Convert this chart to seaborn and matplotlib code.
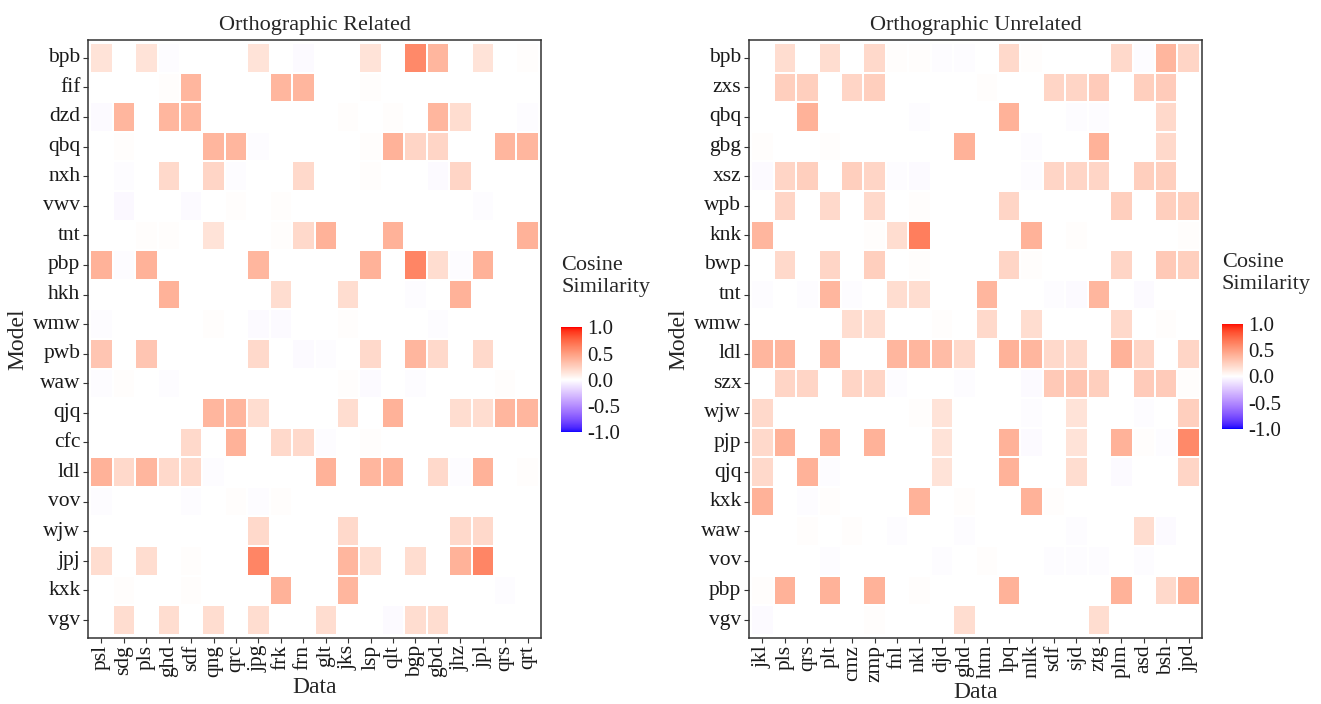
import numpy as np
import pandas as pd
import matplotlib
matplotlib.use("Agg")
import matplotlib.pyplot as plt
from matplotlib.colors import ListedColormap
import seaborn as sns

# ---- data -------------------------------------------------------------
related_models = ["bpb", "fif", "dzd", "qbq", "nxh", "vwv", "tnt", "pbp", "hkh", "wmw",
                  "pwb", "waw", "qjq", "cfc", "ldl", "vov", "wjw", "jpj", "kxk", "vgv"]
related_data = ["psl", "sdg", "pls", "ghd", "sdf", "qng", "qrc", "jpg", "frk", "frn",
                "glt", "jks", "lsp", "qlt", "bgp", "gbd", "jhz", "jpl", "qrs", "qrt"]
related_values = [
    [0.15, 0, 0.15, -0.01, 0, 0, 0, 0.15, 0, -0.02, 0, 0, 0.15, 0, 0.6, 0.38, 0, 0.15, 0, 0.01],
    [0, 0, 0, 0.01, 0.38, 0, 0, 0, 0.38, 0.38, 0, 0, 0.01, 0, 0, 0, 0, 0, 0, 0],
    [-0.02, 0.38, 0, 0.38, 0.38, 0, 0, 0, 0, 0, 0, 0.01, 0, 0.01, 0, 0.38, 0.18, 0, 0, -0.01],
    [0, 0.01, 0, 0, 0, 0.38, 0.38, -0.01, 0, 0, 0, 0, 0.01, 0.4, 0.22, 0.22, 0, 0, 0.38, 0.38],
    [0, -0.01, 0, 0.2, 0, 0.22, -0.01, 0, 0, 0.2, 0, 0, 0.01, 0, 0, -0.02, 0.22, 0, 0, 0],
    [0, -0.03, 0, 0, -0.02, 0, 0.01, 0, 0.01, 0, 0, 0, 0, 0, 0, 0, 0, -0.01, 0, 0],
    [0, 0, 0.01, 0.01, 0, 0.15, 0, 0, 0.01, 0.2, 0.4, 0, 0, 0.4, 0, 0, 0, 0, 0, 0.4],
    [0.4, -0.01, 0.4, 0, 0, 0, 0, 0.38, 0, 0, 0, 0, 0.4, 0, 0.62, 0.18, -0.01, 0.4, 0, 0],
    [0, 0, 0, 0.4, 0, 0, 0, 0, 0.18, 0, 0, 0.18, 0, 0, -0.01, 0, 0.4, 0, 0, 0],
    [-0.01, 0, 0, 0, 0, 0.01, 0, -0.02, -0.02, 0, 0, 0.01, 0, 0, 0, -0.01, 0, 0, 0, 0],
    [0.3, 0, 0.3, 0, 0, 0, 0, 0.2, 0, -0.02, -0.01, 0, 0.2, 0, 0.38, 0.2, 0, 0.2, 0, 0],
    [-0.01, 0.01, 0, -0.01, 0, 0, 0, 0, 0, 0, 0, 0.01, -0.02, 0, -0.01, 0, 0, 0, 0.01, 0],
    [0, 0, 0, 0, 0, 0.38, 0.38, 0.18, 0, 0, 0, 0.18, 0, 0.4, 0, 0, 0.18, 0.18, 0.38, 0.38],
    [0, 0, 0, 0, 0.2, 0, 0.4, 0, 0.2, 0.2, -0.01, 0, 0.01, 0, 0, 0, 0, 0, 0, 0],
    [0.4, 0.2, 0.38, 0.2, 0.2, -0.01, 0, 0, 0, 0, 0.4, 0, 0.38, 0.4, 0, 0.2, -0.01, 0.4, 0, 0.01],
    [-0.01, 0, 0, 0, -0.01, 0, 0.01, -0.01, 0.01, 0, 0, 0, 0, 0, 0, 0, 0, 0, 0, 0],
    [0, 0, 0, 0, 0, 0, 0, 0.2, 0, 0, 0, 0.2, 0, 0, 0, 0, 0.2, 0.2, 0, 0],
    [0.18, 0, 0.18, 0, 0.01, 0, 0, 0.62, 0, 0, 0, 0.38, 0.18, 0, 0.18, 0, 0.4, 0.62, 0, 0],
    [0, 0.01, 0, 0, 0.01, 0, 0, 0, 0.4, 0, 0, 0.38, 0, 0, 0, 0, 0, 0, -0.01, 0],
    [0, 0.18, 0, 0.18, 0, 0.18, 0, 0.18, 0, 0, 0.18, 0, 0, -0.02, 0.18, 0.18, 0, 0, 0, 0],
]

unrelated_models = ["bpb", "zxs", "qbq", "gbg", "xsz", "wpb", "knk", "bwp", "tnt", "wmw",
                    "ldl", "szx", "wjw", "pjp", "qjq", "kxk", "waw", "vov", "pbp", "vgv"]
unrelated_data = ["jkl", "pls", "qrs", "plt", "cmz", "zmp", "fnl", "nkl", "djd", "ghd",
                  "htm", "lpq", "mlk", "sdf", "sjd", "ztg", "plm", "asd", "bsh", "jpd"]
unrelated_values = [
    [0, 0.18, 0, 0.18, 0, 0.2, 0.01, 0.01, -0.01, -0.01, 0, 0.2, 0.01, 0, 0, 0, 0.2, -0.01, 0.38, 0.22],
    [0, 0.25, 0.25, 0, 0.22, 0.25, 0, 0, 0, 0, 0.01, 0, 0, 0.22, 0.22, 0.27, 0, 0.25, 0.27, 0],
    [0, 0, 0.4, 0, 0, 0, 0, -0.01, 0, 0, 0, 0.4, 0, 0, -0.01, -0.01, 0, 0, 0.2, 0],
    [0.01, 0, 0, 0.01, 0, 0, 0, 0, 0, 0.4, 0, 0, -0.01, 0, 0, 0.4, 0, 0, 0.2, 0],
    [-0.02, 0.22, 0.25, 0, 0.25, 0.22, -0.01, -0.02, 0, 0, 0, 0, -0.01, 0.22, 0.22, 0.22, 0, 0.25, 0.25, 0],
    [0, 0.22, 0, 0.2, 0, 0.2, 0, 0.01, 0, 0, 0, 0.22, 0, 0, 0, 0, 0.25, 0, 0.25, 0.25],
    [0.38, 0, 0, 0, 0, 0.01, 0.18, 0.65, 0, 0, 0, 0, 0.4, 0, 0.01, 0, 0, 0, 0, 0.01],
    [0, 0.2, 0, 0.22, 0, 0.25, 0, 0.01, 0, 0, 0, 0.22, 0.01, 0, 0, 0, 0.22, 0, 0.28, 0.25],
    [-0.01, 0, -0.01, 0.38, -0.01, 0, 0.18, 0.18, 0, 0, 0.38, 0, 0, -0.01, -0.02, 0.38, 0, -0.02, 0, 0],
    [0, 0, 0, 0, 0.18, 0.18, 0, 0, 0.01, 0, 0.2, 0, 0.18, 0, 0, 0, 0.2, 0, 0.01, 0],
    [0.38, 0.38, 0, 0.38, 0, 0, 0.38, 0.38, 0.35, 0.2, 0, 0.4, 0.38, 0.2, 0.2, 0, 0.4, 0.22, 0, 0.22],
    [0, 0.22, 0.22, 0, 0.22, 0.22, -0.01, 0, 0, -0.01, 0, 0, -0.02, 0.28, 0.3, 0.25, 0, 0.27, 0.27, 0.01],
    [0.2, 0, 0, 0, 0, 0, 0, 0.01, 0.15, 0, 0, 0, -0.01, 0, 0.15, 0, 0, -0.01, 0, 0.25],
    [0.2, 0.4, 0, 0.4, 0, 0.4, 0, 0, 0.15, 0, 0, 0.4, -0.02, 0, 0.15, 0, 0.4, 0.01, -0.01, 0.6],
    [0.2, 0, 0.4, -0.01, 0, 0, 0, 0, 0.15, 0, 0, 0.4, 0, 0, 0.18, 0, -0.02, 0, 0, 0.22],
    [0.4, 0, -0.01, 0.01, 0, 0, 0, 0.4, 0, 0.01, 0, 0, 0.4, 0.01, 0, 0, 0, 0, 0, 0],
    [0, 0, 0.01, 0, 0.01, 0, -0.01, 0, 0, -0.01, 0, 0, 0, 0, -0.01, 0, 0, 0.18, -0.02, 0],
    [0, 0, 0, -0.01, 0, 0, 0, 0, -0.01, 0, 0.01, 0, 0, -0.01, -0.01, -0.01, 0, -0.01, 0, 0],
    [0.01, 0.4, 0, 0.4, 0, 0.4, 0, 0.01, 0, 0, 0, 0.4, 0, 0, 0, 0, 0.4, 0, 0.2, 0.4],
    [-0.02, 0, 0, 0, 0, 0.01, 0, 0, 0, 0.18, 0, 0, 0, 0, 0, 0.18, 0, 0, 0, 0],
]

colorbar_ticks = [-1.0, -0.5, 0.0, 0.5, 1.0]


# ---- diverging blue-white-red palette interpolated in CIELAB ---------
def lab_to_rgb(lab):
    L, a, b = lab[:, 0], lab[:, 1], lab[:, 2]
    fy = (L + 16) / 116
    fx = fy + a / 500
    fz = fy - b / 200

    def finv(t):
        return np.where(t > 6 / 29, t ** 3, 3 * (6 / 29) ** 2 * (t - 4 / 29))

    X = 0.95047 * finv(fx)
    Y = 1.00000 * finv(fy)
    Z = 1.08883 * finv(fz)
    M = np.array([[3.2406, -1.5372, -0.4986],
                  [-0.9689, 1.8758, 0.0415],
                  [0.0557, -0.2040, 1.0570]])
    lin = np.stack([X, Y, Z], axis=1) @ M.T
    lin = np.clip(lin, 0, 1)
    srgb = np.where(lin <= 0.0031308, 12.92 * lin, 1.055 * lin ** (1 / 2.4) - 0.055)
    return np.clip(srgb, 0, 1)


lab_blue = np.array([32.30, 79.19, -107.86])
lab_white = np.array([100.0, 0.0, 0.0])
lab_red = np.array([53.24, 80.09, 67.20])
t = np.linspace(-1, 1, 511)[:, None]
lab = np.where(t < 0, lab_white + (-t) * (lab_blue - lab_white), lab_white + t * (lab_red - lab_white))
cmap = ListedColormap(lab_to_rgb(lab))

# ---- figure -----------------------------------------------------------
sns.set_theme(style="white")
plt.rcParams["font.family"] = ["Liberation Serif", "DejaVu Serif"]

fig = plt.figure(figsize=(13.21, 7.04), dpi=100)

panels = [
    ("Orthographic Related", related_models, related_data, related_values,
     [0.0666, 0.094, 0.343, 0.8492], [0.4247, 0.386, 0.0159, 0.149], (0.4247, 0.578)),
    ("Orthographic Unrelated", unrelated_models, unrelated_data, unrelated_values,
     [0.567, 0.094, 0.343, 0.8492], [0.925, 0.391, 0.0159, 0.149], (0.925, 0.583)),
]

for title, models, data_cols, values, ax_rect, cax_rect, legend_pos in panels:
    ax = fig.add_axes(ax_rect)
    cax = fig.add_axes(cax_rect)
    df = pd.DataFrame(values, index=models, columns=data_cols)
    sns.heatmap(df, ax=ax, cmap=cmap, vmin=-1, vmax=1, cbar_ax=cax,
                linewidths=0.15, linecolor="white", square=False)
    n_rows, n_cols = df.shape
    ax.set_xlim(-0.1, n_cols + 0.1)
    ax.set_ylim(n_rows + 0.1, -0.1)
    for sp in ax.spines.values():
        sp.set_visible(True)
        sp.set_color("#333333")
        sp.set_linewidth(1.1)
    ax.set_title(title, fontsize=16, pad=7)
    ax.set_xlabel("Data", fontsize=17, labelpad=0)
    ax.set_ylabel("Model", fontsize=17, labelpad=3)
    ax.tick_params(axis="both", which="both", length=3.5, width=0.8, color="#333333",
                   labelsize=15.5, labelcolor="#1a1a1a", pad=2,
                   bottom=True, left=True)
    ax.tick_params(axis="x", pad=1.5)
    ax.set_xticklabels(data_cols, rotation=90, va="top", ha="center")
    ax.set_yticklabels(models, rotation=0)

    cbar = ax.collections[0].colorbar
    cbar.outline.set_visible(False)
    cbar.set_ticks(colorbar_ticks)
    cbar.set_ticklabels([f"{v:.1f}" for v in colorbar_ticks])
    cax.tick_params(axis="y", direction="in", length=4, width=0.8, color="white",
                    left=True, right=True, labelleft=False, labelright=True,
                    labelsize=15, labelcolor="#1a1a1a", pad=4)
    fig.text(legend_pos[0], legend_pos[1], "Cosine\nSimilarity", ha="left", va="bottom",
             fontsize=16, linespacing=1.2)

fig.savefig("out.png", dpi=100)
